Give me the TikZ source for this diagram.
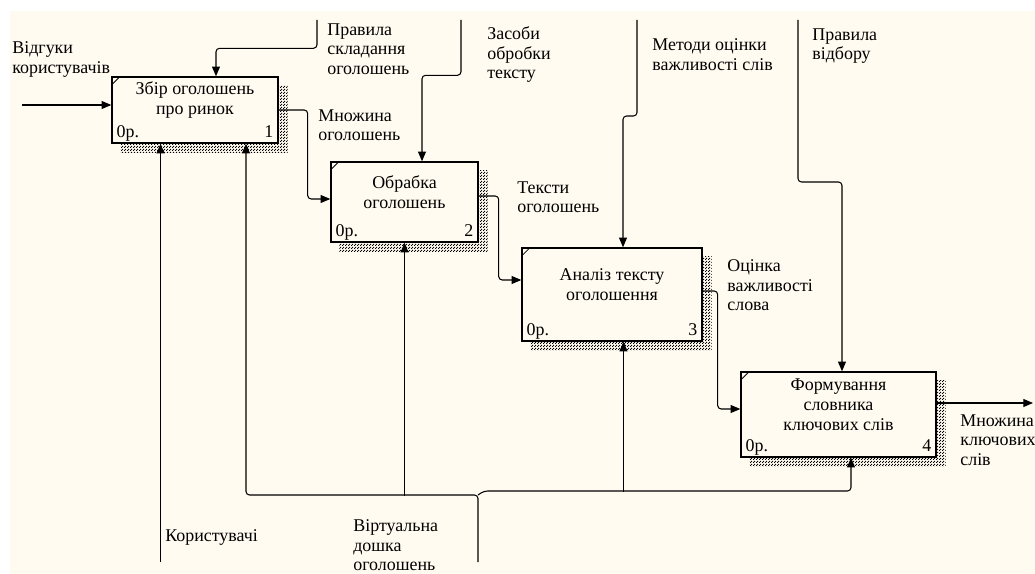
\documentclass[tikz,border=0pt]{standalone}
\usepackage{fontspec}
\setmainfont{Liberation Serif}
\usetikzlibrary{arrows.meta,calc,patterns,backgrounds}

\definecolor{paper}{RGB}{255,251,240}

% fine checker used for the box shadows
\pgfdeclarepatternformonly{shadowdots}{\pgfpointorigin}{\pgfqpoint{1.4pt}{1.4pt}}{\pgfqpoint{1.4pt}{1.4pt}}{%
  \pgfpathrectangle{\pgfpointorigin}{\pgfqpoint{0.75pt}{0.75pt}}%
  \pgfpathrectangle{\pgfqpoint{0.7pt}{0.7pt}}{\pgfqpoint{0.75pt}{0.75pt}}%
  \pgfusepath{fill}}

\tikzset{
  every node/.style={font=\fontsize{10.2}{11.3}\selectfont},
  func/.style={draw, line width=0.8pt, fill=paper, inner sep=0pt},
  flow/.style={-{Triangle[length=5.5pt,width=4.5pt]}, line width=0.6pt, rounded corners=2pt},
  lbl/.style={anchor=north west, inner sep=0pt, align=left},
  shade/.style={pattern=shadowdots, pattern color=black},
}

\begin{document}
\begin{tikzpicture}[x=0.02cm,y=-0.02cm]
    \useasboundingbox (0,0) rectangle (1035,574);

    % function boxes
    \node[func, minimum width=3.32cm, minimum height=1.32cm] (b1) at (195,110) {};
    \node[func, minimum width=2.94cm, minimum height=1.6cm] (b2) at (404.5,202) {};
    \node[func, minimum width=3.6cm, minimum height=1.86cm] (b3) at (612,294.5) {};
    \node[func, minimum width=3.9cm, minimum height=1.7cm] (b4) at (838.5,414.5) {};

    \begin{scope}[on background layer]
        \fill[paper] (10,11) rectangle (1035,574);
        \foreach \b in {b1,b2,b3,b4}
            \fill[shade] ($(\b.south west)+(9,9)$) rectangle ($(\b.north east)+(9,9)$);
    \end{scope}

    \foreach \b/\n in {b1/1,b2/2,b3/3,b4/4}{
        \draw[line width=0.5pt] ($(\b.north west)+(0,9)$) -- ($(\b.north west)+(9,0)$);
        \node[anchor=base west, inner sep=0pt] at ($(\b.south west)+(5,-6)$) {0р.};
        \node[anchor=base east, inner sep=0pt] at ($(\b.south east)+(-5,-6)$) {\n};
    }

    \node[align=center] (t1) at ($(b1)+(0,-10)$) {Збір оголошень\\про ринок};
    \node[align=center] (t2) at ($(b2)+(0,-10)$) {Обрабка\\оголошень};
    \node[align=center] (t3) at ($(b3)+(0,-10)$) {Аналіз тексту\\оголошення};
    \node[align=center] (t4) at ($(b4)+(0,-10)$) {Формування\\словника\\ключових слів};

    % free ends
    \coordinate (in1) at (22,105);
    \coordinate (ctl1) at (317,20);
    \coordinate (ctl2) at (461,20);
    \coordinate (ctl3) at (637,20);
    \coordinate (ctl4) at (798,20);
    \coordinate (out4) at (1033,403);
    \coordinate (mch1) at (160.5,562);
    \coordinate (mch2) at (478,562);

    % inputs and outputs
    \draw[flow] (in1) -- (in1 -| b1.west);
    \draw[flow] (b1.east) -- ++(29,0) |- ($(b2.west)+(0,-3)$);
    \draw[flow] ($(b2.east)+(0,-6)$) -- ++(20,0) |- ($(b3.west)+(0,-14.5)$);
    \draw[flow] ($(b3.east)+(0,-3.5)$) -- ++(15,0) |- ($(b4.west)+(0,-5.5)$);
    \draw[flow] (out4 -| b4.east) -- (out4);

    % controls
    \draw[flow] (ctl1) |- ($(b1.north)+(21,-28)$) -- ($(b1.north)+(21,0)$);
    \draw[flow] (ctl2) |- ($(b2.north)+(17.5,-86)$) -- ($(b2.north)+(17.5,0)$);
    \draw[flow] (ctl3) -- ++(0,96) -| ($(b3.north)+(11,0)$);
    \draw[flow] (ctl4) -- ++(0,162) -| ($(b4.north)+(3.5,0)$);

    % mechanisms
    \draw[flow] (mch1) -- (mch1 |- b1.south);
    \draw[flow] (mch2) -- ++(0,-67) -| ($(b1.south)+(51,0)$);
    \draw[flow] ($(b2.south)+(0,253)$) -- (b2.south);
    \draw[flow] (mch2) ++(0,-67) -- ++(6,-4) -| ($(b4.south)+(12.5,0)$);
    \draw[flow] ($(b3.south)+(11.5,150)$) -- ($(b3.south)+(11.5,0)$);

    % arrow labels
    \node[lbl] (l1) at (12,41) {Відгуки\\користувачів};
    \node[lbl] (l2) at (327,23) {Правила\\складання\\оголошень};
    \node[lbl] (l3) at (487,26) {Засоби\\обробки\\тексту};
    \node[lbl] (l4) at (652,38) {Методи оцінки\\важливості слів};
    \node[lbl] (l5) at (812,28) {Правила\\відбору};
    \node[lbl] (l6) at (318,109) {Множина\\оголошень};
    \node[lbl] (l7) at (517,181) {Тексти\\оголошень};
    \node[lbl] (l8) at (727,259) {Оцінка\\важливості\\слова};
    \node[lbl] (l9) at (960,414) {Множина\\ключових\\слів};
    \node[lbl] (l10) at (165,529) {Користувачі};
    \node[lbl] (l11) at (353,519) {Віртуальна\\дошка\\оголошень};
\end{tikzpicture}
\end{document}
